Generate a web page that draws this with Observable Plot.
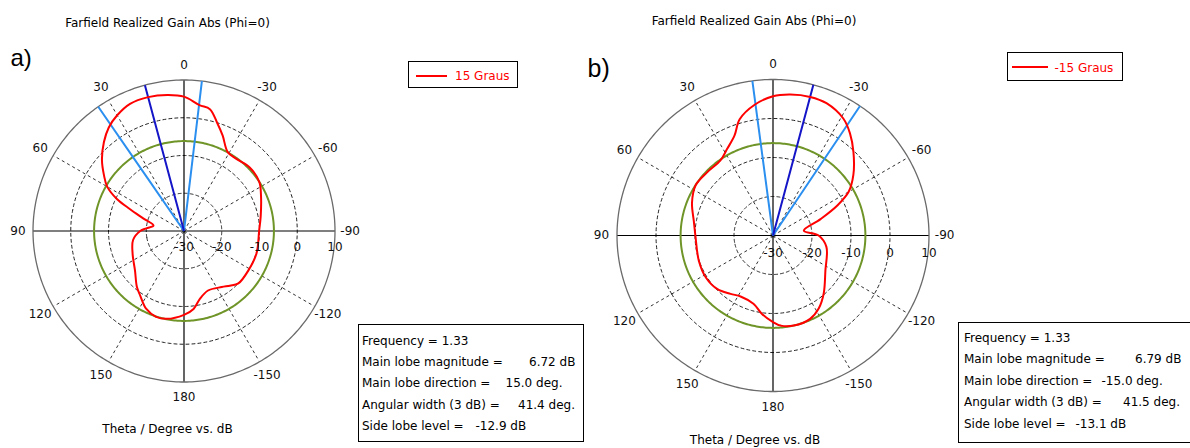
<!DOCTYPE html>
<html><head><meta charset="utf-8">
<script src="https://cdn.jsdelivr.net/npm/d3@7"></script>
<script src="https://cdn.jsdelivr.net/npm/@observablehq/plot@0.6"></script>
<style>
body{margin:0;background:#fff}
#page{position:relative;width:1190px;height:448px;overflow:hidden;background:#fff;font-family:"DejaVu Sans",sans-serif;font-size:12px;color:#000}
.t{position:absolute;white-space:pre;line-height:12px}
.c{transform:translateX(-50%)}
.big{font-family:"Liberation Sans",Arial,sans-serif;font-size:24px;line-height:24px}
.box{position:absolute;border:1.5px solid #000;box-sizing:border-box;background:#fff}
.plot{position:absolute;top:0}
</style></head><body><div id="page"></div>
<script>
// ---- data ----
const angleTicks = [0, 30, 60, 90, 120, 150, 180, -150, -120, -90, -60, -30];
const radialTicks = [-30, -20, -10, 0, 10];
const gridRings = [-20, -10, 0];

const thetaA = [-180, -173, -167, -158, -146, -140, -134, -121, -107, -90, -79, -65, -57, -46, -36, -29, -22, -17, -12, -7, 0, 7, 15, 23, 30, 36, 42, 49, 55, 60, 64.5, 68, 73, 80, 86, 90, 100, 114, 129, 140, 146, 154, 162, 169];
const gainA  = [-7.8, -9.2, -11.5, -13.0, -12.1, -11.1, -10.0, -10.0, -9.9, -10.1, -9.3, -7.5, -6.2, -5.8, -6.4, -6.1, -2.7, 0.0, 3.0, 3.6, 5.6, 6.3, 6.72, 6.6, 5.4, 3.9, 1.7, -1.2, -4.1, -6.5, -10.3, -14.6, -18.8, -21.8, -20.0, -18.4, -16.3, -15.1, -13.3, -10.6, -9.3, -7.1, -6.1, -6.3];
const mainLobeA = [15.0];
const beamEdgesA = [34.6, -6.8];
const sideLobeRingA = [-6.18];

const thetaB = [-180, -175, -167, -156, -148, -139, -124, -102, -90, -81, -71, -65, -60, -53, -44, -37, -31, -22, -15, -7, 0, 8, 16, 21, 28, 35, 46, 57, 68, 80, 90, 109, 122, 134, 144, 152, 164, 172];
const gainB  = [-7.8, -6.8, -6.3, -6.6, -7.9, -10.2, -13.8, -16.0, -18.3, -22.0, -17.1, -11.8, -7.6, -4.2, -0.3, 2.8, 5.0, 6.6, 6.79, 6.4, 5.7, 3.85, 1.0, -2.5, -4.9, -6.5, -6.6, -6.35, -7.6, -9.4, -10.1, -9.9, -9.7, -10.2, -11.5, -12.3, -11.8, -9.7];
const mainLobeB = [-15.0];
const beamEdgesB = [7.6, -33.9];
const sideLobeRingB = [-6.31];

const infoA = [["Frequency = 1.33", ""], ["Main lobe magnitude =", "6.72 dB"], ["Main lobe direction =", "15.0 deg."], ["Angular width (3 dB) =", "41.4 deg."], ["Side lobe level =", "-12.9 dB"]];
const infoB = [["Frequency = 1.33", ""], ["Main lobe magnitude =", "6.79 dB"], ["Main lobe direction =", "-15.0 deg."], ["Angular width (3 dB) =", "41.5 deg."], ["Side lobe level =", "-13.1 dB"]];

// ---- helpers ----
const dbMin = -30, dbMax = 10;
const lon = (t) => 180 + t;          // theta 0 at top, positive to the left
const lat = (g) => 90 - (g - dbMin);  // radius in degrees from the pole
const ring = (g) => d3.geoCircle().center([0, 90]).radius(g - dbMin).precision(1)();

function polar({width, height, margins, theta, gain, mainLobe, beamEdges, sideRing, tickDy}) {
  const idx = d3.range(theta.length);
  return Plot.plot({
    width, height, ...margins,
    projection: {type: "azimuthal-equidistant", rotate: [0, -90], domain: ring(dbMax), clip: false},
    style: {fontFamily: "DejaVu Sans", fontSize: "12px", background: "transparent", overflow: "visible", color: "#000"},
    marks: [
      Plot.geo(gridRings, {geometry: ring, stroke: "#222", strokeWidth: 1, strokeDasharray: "3,3"}),
      Plot.link(angleTicks.filter((t) => t % 90 !== 0), {x1: (t) => lon(t), y1: () => 90, x2: (t) => lon(t), y2: () => lat(dbMax), stroke: "#333", strokeWidth: 1, strokeDasharray: "3,3"}),
      Plot.link(angleTicks.filter((t) => t % 90 === 0), {x1: (t) => lon(t), y1: () => 90, x2: (t) => lon(t), y2: () => lat(dbMax), stroke: "#000", strokeWidth: 1.2}),
      Plot.geo([dbMax], {geometry: ring, stroke: "#6a6a6a", strokeWidth: 1.3}),
      Plot.geo(sideRing, {geometry: ring, stroke: "#6f9428", strokeWidth: 2}),
      Plot.link(beamEdges, {x1: (t) => lon(t), y1: () => 90, x2: (t) => lon(t), y2: () => lat(dbMax), stroke: "#2b8ff0", strokeWidth: 2}),
      Plot.link(mainLobe, {x1: (t) => lon(t), y1: () => 90, x2: (t) => lon(t), y2: () => lat(dbMax), stroke: "#1515c8", strokeWidth: 2}),
      Plot.line(idx, {x: (i) => lon(theta[i]), y: (i) => lat(gain[i]), curve: "catmull-rom-closed", stroke: "#ff0000", strokeWidth: 2}),
      Plot.text(angleTicks, {x: (t) => lon(t), y: () => lat(14), text: (t) => String(t), fill: "#111"}),
      Plot.text(radialTicks, {x: () => lon(-90), y: (v) => lat(v), dy: tickDy, text: (v) => String(v), fill: "#111"})
    ]
  });
}

const page = document.getElementById("page");
function addText(txt, x, baseline, cls = "", color) {
  const d = document.createElement("div");
  d.className = "t " + cls;
  d.textContent = txt;
  const big = cls.includes("big");
  d.style.left = x + "px";
  d.style.top = (baseline - (big ? 20.3 : 10.2)) + "px";
  if (color) d.style.color = color;
  page.appendChild(d);
  return d;
}
function addBox(x, y, w, h) {
  const d = document.createElement("div");
  d.className = "box";
  Object.assign(d.style, {left: x + "px", top: y + "px", width: w + "px", height: h + "px"});
  page.appendChild(d);
}
function legend(x, y, w, h, lineX1, lineX2, lineY, textX, textBase, label) {
  addBox(x, y, w, h);
  const l = document.createElement("div");
  Object.assign(l.style, {position: "absolute", left: lineX1 + "px", top: (lineY - 1) + "px", width: (lineX2 - lineX1) + "px", height: "0", borderTop: "2px solid #ff0000"});
  page.appendChild(l);
  addText(label, textX, textBase, "", "#ff0000");
}
function info(rows, x, y, w, h, textX, base0, step, valueX) {
  addBox(x, y, w, h);
  rows.forEach(([k, v], i) => {
    addText(k, textX, base0 + i * step);
    if (v) addText(v, valueX[i], base0 + i * step);
  });
}

// chart A
const pa = polar({width: 370, height: 448, margins: {marginTop: 79.5, marginLeft: 32.5, marginRight: 35.5, marginBottom: 66.5},
  theta: thetaA, gain: gainA, mainLobe: mainLobeA, beamEdges: beamEdgesA, sideRing: sideLobeRingA, tickDy: 16.5});
pa.classList.add("plot"); pa.style.left = "0px";
page.appendChild(pa);

// chart B
const pb = polar({width: 380, height: 448, margins: {marginTop: 79, marginLeft: 36.5, marginRight: 31.5, marginBottom: 57},
  theta: thetaB, gain: gainB, mainLobe: mainLobeB, beamEdges: beamEdgesB, sideRing: sideLobeRingB, tickDy: 17.7});
pb.classList.add("plot"); pb.style.left = "580px";
page.appendChild(pb);

// annotations A
addText("Farfield Realized Gain Abs (Phi=0)", 167.5, 27.5, "c");
addText("a)", 10.5, 66, "big");
addText("Theta / Degree vs. dB", 167.5, 433, "c");
legend(408, 61, 110, 27, 416, 447, 75.5, 455, 80.5, "15 Graus");
info(infoA, 358, 324, 226, 118, 362, 345, 21.25, [0, 529, 505.5, 518, 475.5]);

// annotations B
addText("Farfield Realized Gain Abs (Phi=0)", 754, 25, "c");
const b = addText("b)", 587.5, 76.5, "big"); b.style.fontSize = "25px";
addText("Theta / Degree vs. dB", 755, 444, "c");
legend(1007, 52, 116, 29, 1012, 1048, 67, 1054.5, 72.5, "-15 Graus");
info(infoB, 958, 322, 240, 121, 964, 341.7, 21.65, [0, 1135, 1101.5, 1123, 1075.5]);
</script></body></html>
